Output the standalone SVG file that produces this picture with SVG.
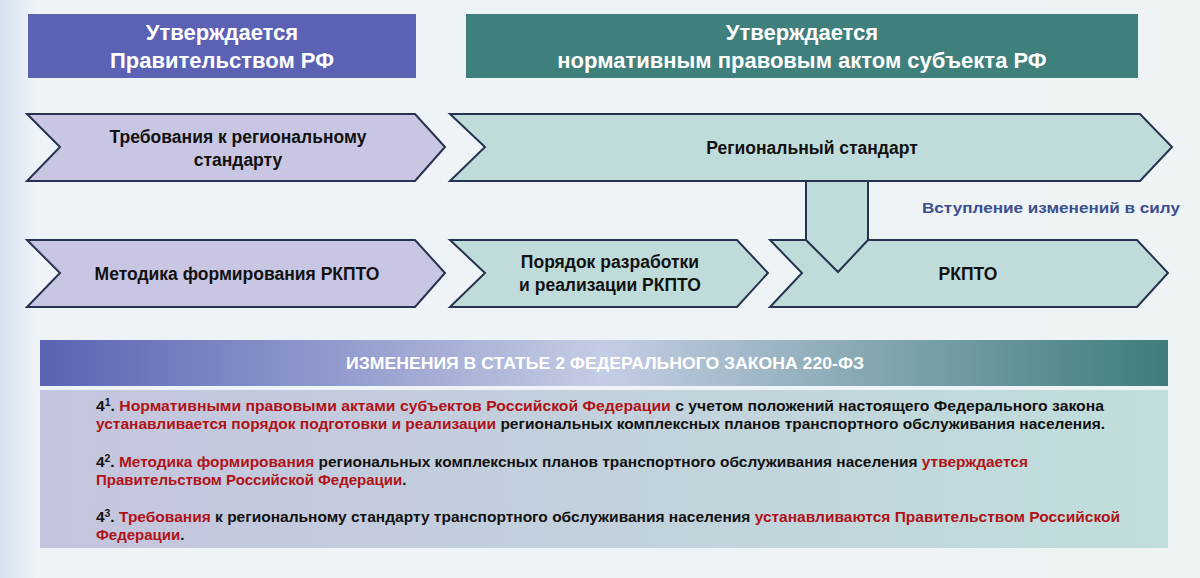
<svg xmlns="http://www.w3.org/2000/svg" width="1200" height="578" viewBox="0 0 1200 578">
<defs>
<linearGradient id="bg" x1="0" y1="0" x2="1" y2="0"><stop offset="0" stop-color="#d6e2f2"/><stop offset="0.03" stop-color="#eef3f8"/><stop offset="1" stop-color="#eef3f6"/></linearGradient>
<linearGradient id="ban" x1="0" y1="0" x2="1" y2="0"><stop offset="0" stop-color="#5a63b4"/><stop offset="0.5" stop-color="#c5cde4"/><stop offset="1" stop-color="#3e7d7a"/></linearGradient>
<linearGradient id="box" x1="0" y1="0" x2="1" y2="0"><stop offset="0" stop-color="#c4c4de"/><stop offset="1" stop-color="#c0dedb"/></linearGradient>
<style>
.t{font-family:"Liberation Sans",Arial,sans-serif;font-weight:bold;text-anchor:middle}
.h{fill:#fff;font-size:22px}
.n{fill:#111;font-size:17.5px}
.p{font-family:"Liberation Sans",Arial,sans-serif;font-weight:bold;font-size:15px;fill:#111}
.r{fill:#b01218}
.v{stroke:#26324f;stroke-width:2}
</style>
</defs>
<rect width="1200" height="578" fill="url(#bg)"/>
<g id="head-left"><rect x="28" y="14" width="388" height="64" fill="#5b62b4"/><text class="t h" x="222" y="40">Утверждается</text><text class="t h" x="222" y="68">Правительством РФ</text></g>
<g id="head-right"><rect x="466" y="14" width="672" height="64" fill="#3f7f7c"/><text class="t h" x="802" y="40">Утверждается</text><text class="t h" x="802" y="68">нормативным правовым актом субъекта РФ</text></g>
<g id="req"><polygon class="v" points="27,114 415,114 445,147 415,181 27,181 60,147" fill="#c8c6e2"/><text class="t n" x="238" y="143">Требования к региональному</text><text class="t n" x="238" y="166">стандарту</text></g>
<g id="std"><polygon class="v" points="450,114 1140,114 1172,147 1140,181 450,181 485,147" fill="#bfdcda"/><text class="t n" x="812" y="154">Региональный стандарт</text></g>
<g id="met"><polygon class="v" points="27,240 415,240 445,273 415,307 27,307 60,273" fill="#c8c6e2"/><text class="t n" x="237" y="280">Методика формирования РКПТО</text></g>
<g id="por"><polygon class="v" points="450,240 737,240 768,273 737,307 450,307 485,273" fill="#bfdcda"/><text class="t n" x="610" y="268">Порядок разработки</text><text class="t n" x="610" y="291">и реализации РКПТО</text></g>
<g id="rkpto"><polygon class="v" points="770,240 1137,240 1168,273 1137,307 770,307 802,273" fill="#bfdcda"/><text class="t n" x="968" y="280">РКПТО</text></g>
<g id="connectors"><polygon class="v" points="806,181 868,181 868,240 838,272 806,240" fill="#bfdcda"/><polygon points="807,183 867,183 867,238 807,238" fill="#bfdcda"/></g>
<text class="t" x="1051" y="213" style="font-size:15.5px;fill:#3d4f8e" textLength="258" lengthAdjust="spacingAndGlyphs">Вступление изменений в силу</text>
<g id="banner"><rect x="40" y="340" width="1128" height="46" fill="url(#ban)"/><text class="t" x="605" y="369" style="font-size:16px;fill:#fff" textLength="518" lengthAdjust="spacingAndGlyphs">ИЗМЕНЕНИЯ  В СТАТЬЕ 2 ФЕДЕРАЛЬНОГО ЗАКОНА  220-ФЗ</text></g>
<g id="textbox"><rect x="40" y="390" width="1128" height="158" fill="url(#box)"/>
<text class="p" x="96" y="411" textLength="1008" lengthAdjust="spacingAndGlyphs">4<tspan font-size="10" dy="-5">1</tspan><tspan dy="5">. </tspan><tspan class="r">Нормативными правовыми актами субъектов Российской Федерации</tspan> с учетом положений настоящего Федерального закона</text>
<text class="p" x="96" y="429" textLength="1009" lengthAdjust="spacingAndGlyphs"><tspan class="r">устанавливается  порядок подготовки и реализации</tspan> региональных комплексных планов транспортного обслуживания населения.</text>
<text class="p" x="96" y="467" textLength="932" lengthAdjust="spacingAndGlyphs">4<tspan font-size="10" dy="-5">2</tspan><tspan dy="5">. </tspan><tspan class="r">Методика формирования</tspan> региональных комплексных планов транспортного обслуживания населения <tspan class="r">утверждается</tspan></text>
<text class="p r" x="96" y="485">Правительством Российской Федерации<tspan fill="#111">.</tspan></text>
<text class="p" x="96" y="522" textLength="1024" lengthAdjust="spacingAndGlyphs">4<tspan font-size="10" dy="-5">3</tspan><tspan dy="5">. </tspan><tspan class="r">Требования</tspan> к региональному стандарту транспортного обслуживания населения <tspan class="r">устанавливаются Правительством Российской</tspan></text>
<text class="p r" x="96" y="540">Федерации<tspan fill="#111">.</tspan></text>
</g>
</svg>
